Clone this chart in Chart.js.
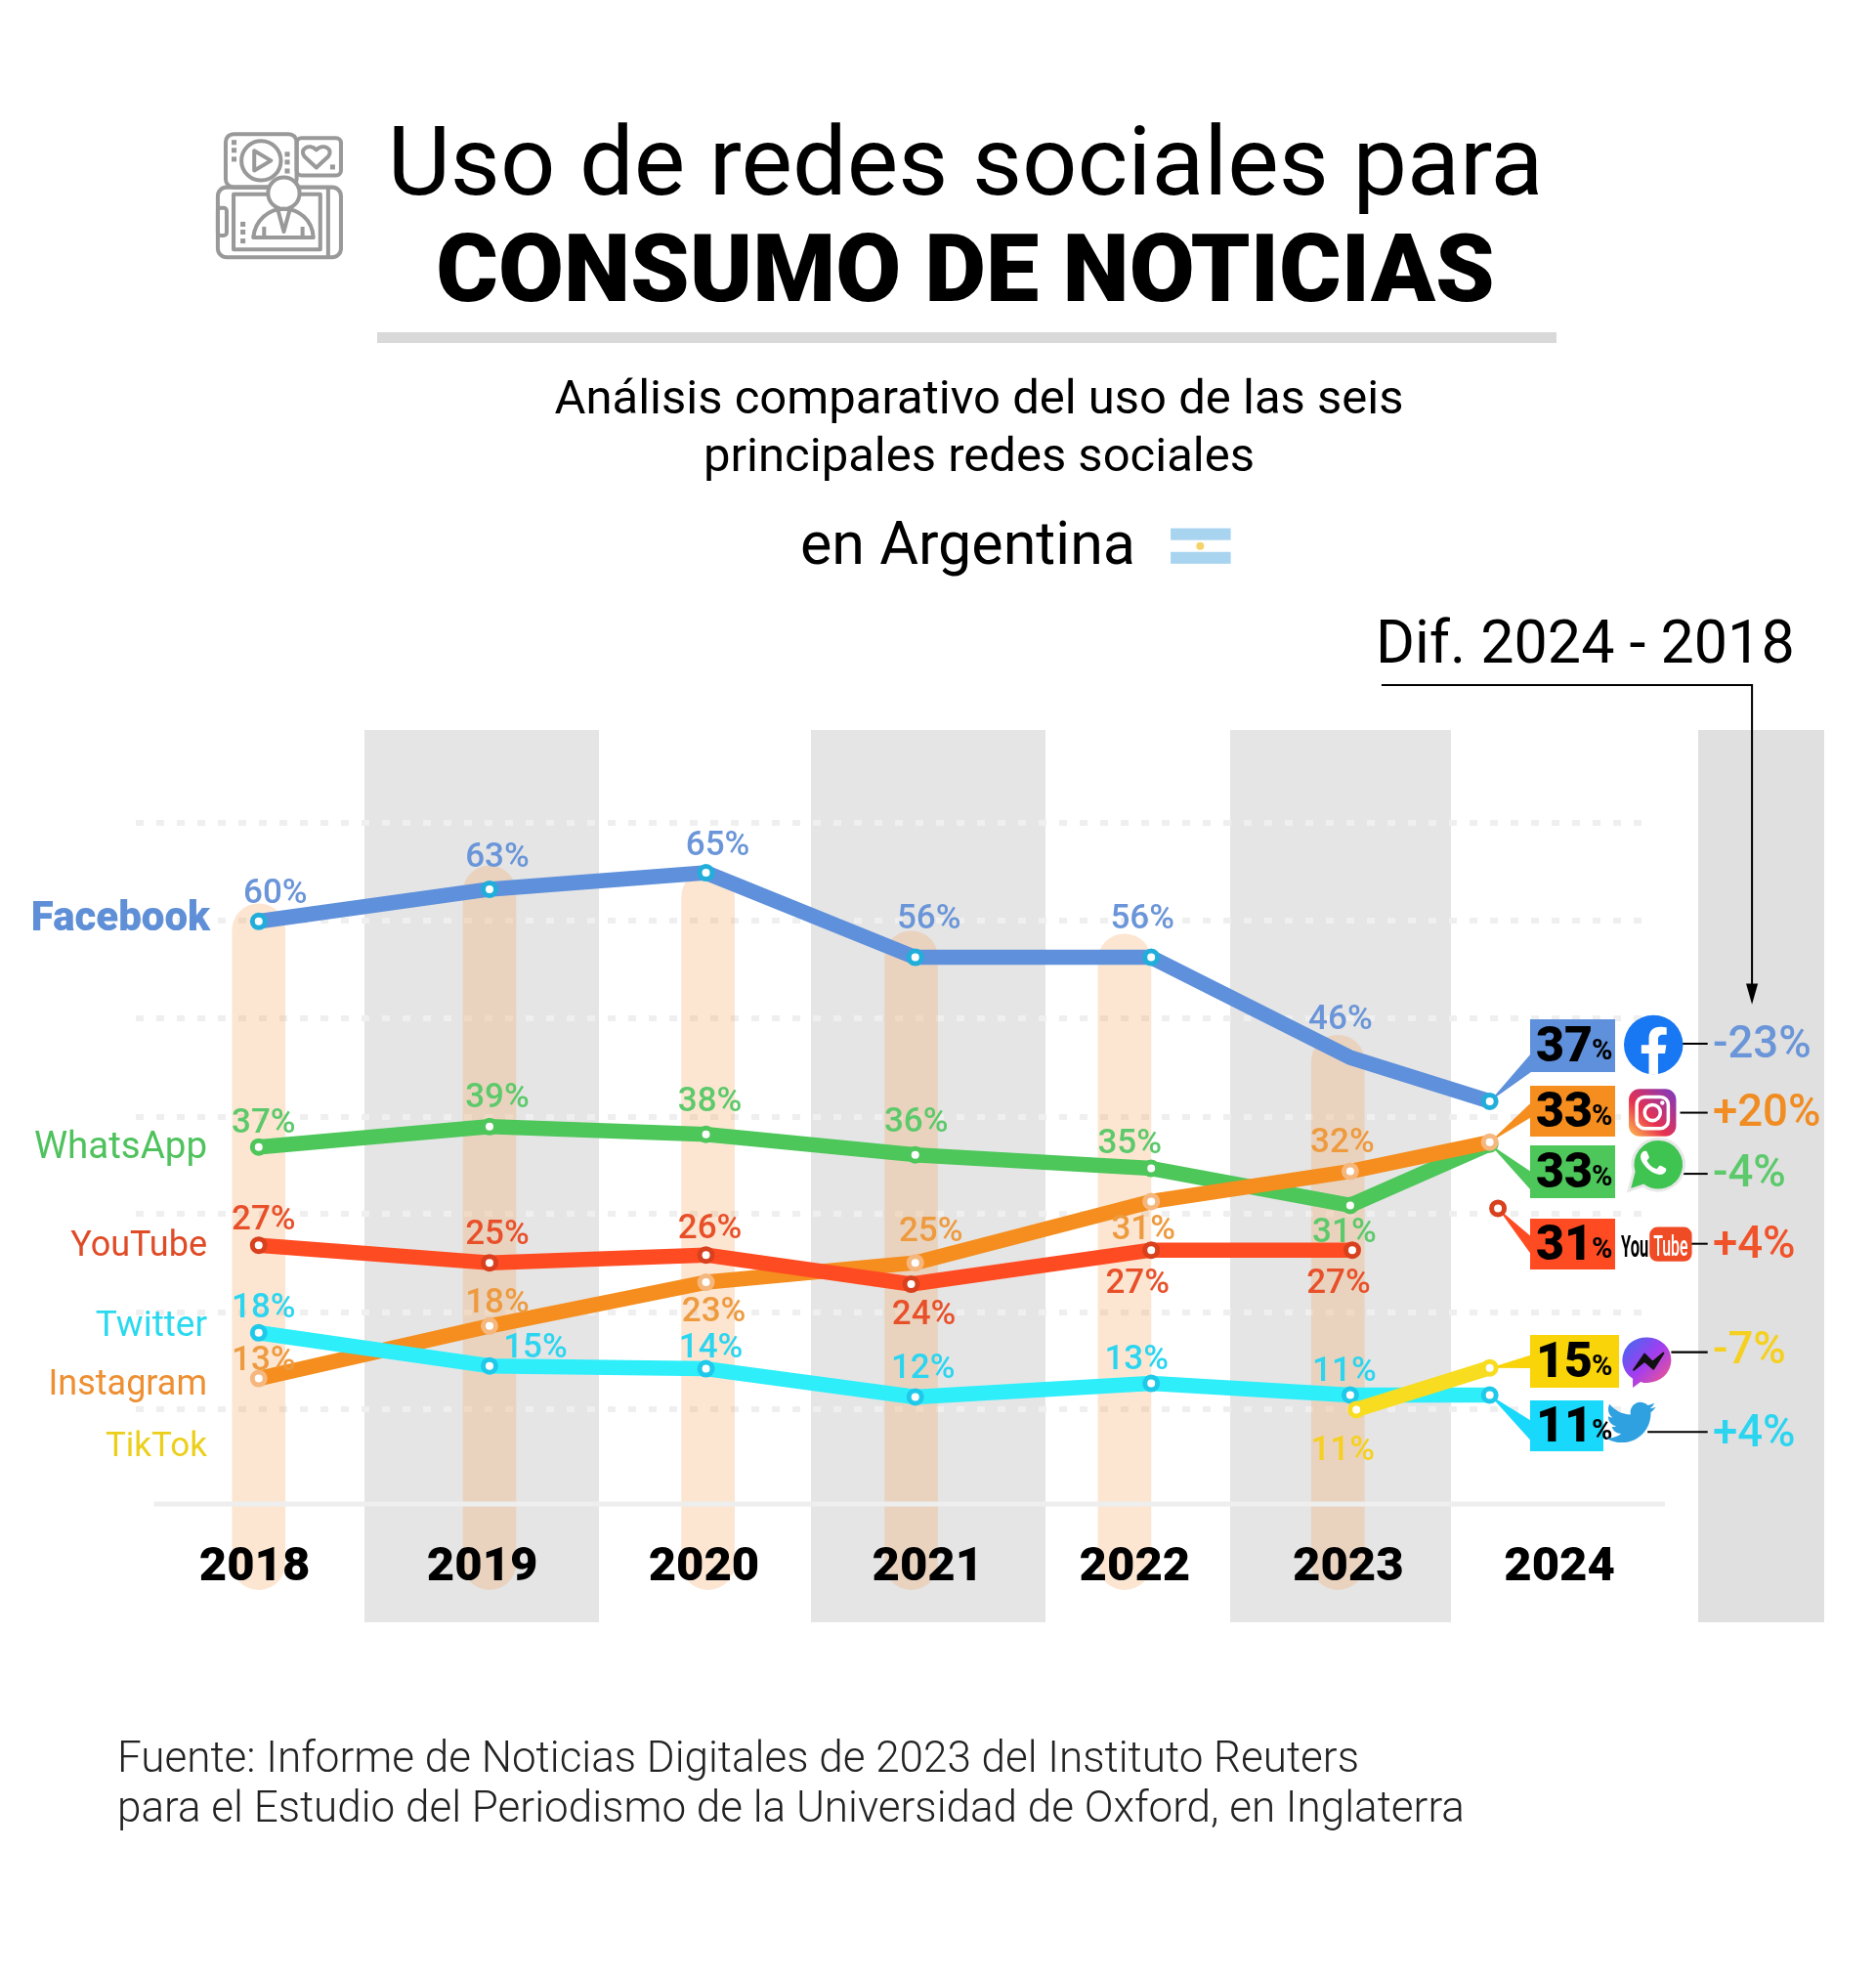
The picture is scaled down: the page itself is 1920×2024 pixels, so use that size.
<!DOCTYPE html>
<html lang="es">
<head>
<meta charset="utf-8">
<title>Uso de redes sociales para consumo de noticias</title>
<script src="https://cdn.jsdelivr.net/npm/chart.js@4"></script>
<style>
    html, body { margin: 0; padding: 0; background: #fff; }
    body { position: relative; width: 1920px; height: 2024px; overflow: hidden; font-family: Roboto, sans-serif; color: #000; }
    .banda { position: absolute; top: 747px; height: 913px; background: #e5e5e5; }
    canvas, svg { position: absolute; left: 0; top: 0; }
    .txt { position: absolute; white-space: nowrap; line-height: 1; transform: translateY(-50%); }
    .centro { transform: translate(-50%, -50%); }
    .nombre { right: 1708px; font-size: 36px; }
    .dif { left: 1753px; font-size: 45.5px; font-weight: 500; }
</style>
</head>
<body>

<div class="banda" style="left:373px;width:240px"></div>
<div class="banda" style="left:830px;width:240px"></div>
<div class="banda" style="left:1259px;width:226px"></div>
<div class="banda" style="left:1738px;width:129px;background:#e0e0e0"></div>

<canvas id="grafico" width="1920" height="2024"></canvas>

<div class="txt centro" style="left:988px;top:165px;font-size:99px">Uso de redes sociales para</div>
<div class="txt centro" style="left:988px;top:275px;font-size:97px;font-weight:900">CONSUMO DE NOTICIAS</div>
<div style="position:absolute;left:386px;top:340px;width:1207px;height:11px;background:#d9d9d9"></div>
<div class="txt centro" style="left:1002px;top:406px;font-size:49px">Análisis comparativo del uso de las seis</div>
<div class="txt centro" style="left:1002px;top:465px;font-size:49px">principales redes sociales</div>
<div class="txt" style="left:819px;top:556px;font-size:61px">en Argentina</div>
<div class="txt" style="left:1408px;top:657px;font-size:61px">Dif. 2024 - 2018</div>

<div class="txt nombre" style="top:938px;right:1705px;color:#5f8fd6;font-weight:900;font-size:42px">Facebook</div>
<div class="txt nombre" style="top:1172px;color:#4fc25d;font-size:38.5px">WhatsApp</div>
<div class="txt nombre" style="top:1273px;color:#df4b26">YouTube</div>
<div class="txt nombre" style="top:1354px;color:#2bd9ef;font-size:37px">Twitter</div>
<div class="txt nombre" style="top:1415px;color:#ee8f32">Instagram</div>
<div class="txt nombre" style="top:1478px;color:#eccf1a;font-size:35px">TikTok</div>

<div class="txt dif" style="top:1067px;color:#6a95d8">-23%</div>
<div class="txt dif" style="top:1137px;color:#f08c22">+20%</div>
<div class="txt dif" style="top:1199px;color:#5cc96b">-4%</div>
<div class="txt dif" style="top:1272px;color:#f0532a">+4%</div>
<div class="txt dif" style="top:1380px;color:#f5d020">-7%</div>
<div class="txt dif" style="top:1465px;color:#2bd5f0">+4%</div>

<div class="txt" style="left:120px;top:1798px;font-size:44px;font-weight:300;color:#222">Fuente: Informe de Noticias Digitales de 2023 del Instituto Reuters</div>
<div class="txt" style="left:120px;top:1849px;font-size:44px;font-weight:300;color:#222">para el Estudio del Periodismo de la Universidad de Oxford, en Inglaterra</div>

<svg width="1920" height="2024" viewBox="0 0 1903.8 2007" fill="none">
    <defs>
        <linearGradient id="gradIg" x1="0" y1="1" x2="1" y2="0">
            <stop offset="0" stop-color="#fdc04e"/><stop offset=".4" stop-color="#e8304f"/><stop offset="1" stop-color="#7a3bc4"/>
        </linearGradient>
        <linearGradient id="gradMs" x1="0" y1="0" x2="1" y2="1">
            <stop offset="0" stop-color="#3a6cf0"/><stop offset=".5" stop-color="#a33df0"/><stop offset="1" stop-color="#ff5a7a"/>
        </linearGradient>
    </defs>

    <!-- icono del encabezado -->
    <g stroke="#999" stroke-width="4" stroke-linejoin="round">
        <rect x="229" y="136" width="72" height="54" rx="8"/>
        <rect x="301" y="140" width="45" height="38" rx="5"/>
        <rect x="221" y="190" width="125" height="71" rx="9"/>
        <rect x="237" y="197" width="88" height="56"/>
        <rect x="221" y="211" width="9" height="28" rx="3"/>
        <path d="M333 190V261"/>
        <circle cx="265" cy="163" r="20"/>
        <path d="M258 153V173L275 163Z"/>
        <path d="M321 170L309 159C303 151 314 145 321 152C328 145 339 151 333 159Z"/>
        <circle cx="288" cy="196" r="16" fill="#fff"/>
        <path d="M257 241C259 223 273 212 288 212C303 212 317 223 318 241Z"/>
        <path d="M282 213L288 235L294 213M268 230V241M307 230V241"/>
    </g>
    <g fill="#999">
        <rect x="235" y="142" width="5" height="5"/><rect x="235" y="150" width="5" height="5"/><rect x="235" y="159" width="5" height="5"/>
        <rect x="289" y="154" width="5" height="5"/><rect x="289" y="162" width="5" height="5"/><rect x="289" y="171" width="5" height="5"/>
        <rect x="335" y="167" width="5" height="5"/>
        <rect x="244" y="225" width="5" height="5"/><rect x="244" y="233" width="5" height="5"/><rect x="244" y="242" width="5" height="5"/>
    </g>

    <!-- bandera -->
    <rect x="1188" y="536" width="61" height="36" fill="#fff"/>
    <rect x="1188" y="536" width="61" height="12" fill="#a8d4f0"/>
    <rect x="1188" y="560" width="61" height="12" fill="#a8d4f0"/>
    <circle cx="1218" cy="554" r="4" fill="#f6d36a"/>

    <!-- flecha de la diferencia -->
    <path d="M1402 695H1778V1000" stroke="#000" stroke-width="2"/>
    <path d="M1772 998H1784L1778 1019Z" fill="#000"/>

    <!-- lineas hacia las diferencias -->
    <g stroke="#000" stroke-width="2">
        <path d="M1706 1059H1733"/><path d="M1705 1129H1733"/><path d="M1705 1191H1733"/>
        <path d="M1716 1262H1733"/><path d="M1696 1372H1733"/><path d="M1672 1453H1733"/>
    </g>

    <!-- facebook -->
    <g transform="translate(-2 0)">
        <circle cx="1680" cy="1060" r="30" fill="#1877f2"/>
        <g transform="translate(1650 1030) scale(2.5)">
            <path fill="#fff" d="M16.671 15.543l.532-3.47h-3.328v-2.25c0-.949.465-1.874 1.956-1.874h1.513V4.996s-1.374-.235-2.686-.235c-2.741 0-4.533 1.662-4.533 4.669v2.643H7.078v3.47h3.047v8.385a12.09 12.09 0 003.75 0v-8.385z"/>
        </g>
    </g>
    <!-- instagram -->
    <rect x="1653" y="1105" width="48" height="48" rx="11" fill="url(#gradIg)"/>
    <rect x="1661" y="1113" width="32" height="32" rx="8" stroke="#fff" stroke-width="3.5"/>
    <circle cx="1677" cy="1129" r="8" stroke="#fff" stroke-width="3.5"/>
    <circle cx="1687" cy="1119" r="2.2" fill="#fff"/>
    <!-- whatsapp -->
    <g transform="translate(-4 -3)">
        <path d="M1657 1211L1662 1192A26 26 0 1 1 1672 1206Z" fill="#3fc351" stroke="#e8e8e8" stroke-width="3"/>
        <g transform="translate(1656 1157) scale(2.15)">
            <path fill="#fff" d="M17.472 14.382c-.297-.149-1.758-.867-2.03-.967-.273-.099-.471-.148-.67.15-.197.297-.767.966-.94 1.164-.173.199-.347.223-.644.075-.297-.15-1.255-.463-2.39-1.475-.883-.788-1.48-1.761-1.653-2.059-.173-.297-.018-.458.13-.606.134-.133.298-.347.446-.52.149-.174.198-.298.298-.497.099-.198.05-.371-.025-.52-.075-.149-.669-1.612-.916-2.207-.242-.579-.487-.5-.669-.51-.173-.008-.371-.01-.57-.01-.198 0-.52.074-.792.372-.272.297-1.04 1.016-1.04 2.479 0 1.462 1.065 2.875 1.213 3.074.149.198 2.096 3.2 5.077 4.487.709.306 1.262.489 1.694.625.712.227 1.36.195 1.871.118.571-.085 1.758-.719 2.006-1.413.248-.694.248-1.289.173-1.413-.074-.124-.272-.198-.57-.347z"/>
        </g>
    </g>
    <!-- youtube -->
    <text x="1645" y="1275" fill="#000" font-family="Roboto" font-weight="700" font-size="32" textLength="28" lengthAdjust="spacingAndGlyphs">You</text>
    <rect x="1674" y="1245" width="43" height="35" rx="8" fill="#ef4b25"/>
    <text x="1678" y="1274" fill="#fff" font-family="Roboto" font-weight="500" font-size="30" textLength="35" lengthAdjust="spacingAndGlyphs">Tube</text>
    <!-- messenger -->
    <path d="M1672 1357A24 23 0 0 1 1672 1403C1669 1403 1667 1403 1665 1402L1657 1408V1399A24 23 0 0 1 1672 1357Z" fill="url(#gradMs)"/>
    <path d="M1658 1390L1669 1374L1677 1382L1688 1373L1678 1389L1669 1381Z" fill="#111" stroke="#111" stroke-width="2" stroke-linejoin="round"/>
    <!-- twitter -->
    <g transform="translate(1630 1418) scale(2.1)">
        <path fill="#2fa0e0" d="M23.953 4.57a10 10 0 01-2.825.775 4.958 4.958 0 002.163-2.723c-.951.555-2.005.959-3.127 1.184a4.92 4.92 0 00-8.384 4.482C7.69 8.095 4.067 6.13 1.64 3.162a4.822 4.822 0 00-.666 2.475c0 1.71.87 3.213 2.188 4.096a4.904 4.904 0 01-2.228-.616v.06a4.923 4.923 0 003.946 4.827 4.996 4.996 0 01-2.212.085 4.936 4.936 0 004.604 3.417 9.867 9.867 0 01-6.102 2.105c-.39 0-.779-.023-1.17-.067a13.995 13.995 0 007.557 2.209c9.053 0 13.998-7.496 13.998-13.985 0-.21 0-.42-.015-.63A9.935 9.935 0 0024 4.59z"/>
    </g>
</svg>

<script>
// ==============================
// DATOS
// ==============================

const anios = ["2018", "2019", "2020", "2021", "2022", "2023", "2024"];

// Porcentajes impresos en la imagen
const facebook = [60, 63, 65, 56, 56, 46, 37];
const whatsapp = [37, 39, 38, 36, 35, 31, 33];
const youtube = [27, 25, 26, 24, 27, 27, 31];
const instagram = [13, 18, 23, 25, 31, 32, 33];
const twitter = [18, 15, 14, 12, 13, 11, 11];
const tiktok = [11, 15];

// El original no dibuja a escala: altura real de cada punto leida contra las lineas de puntos
const nivelFacebook = [59.9, 63.2, 64.9, 56.2, 56.2, 45.9, 41.4];
const nivelWhatsapp = [36.7, 38.8, 38.0, 35.9, 34.5, 30.7, 37.0];
const nivelYoutube = [26.6, 24.8, 25.6, 22.6, 26.1, 26.1];
const nivelYoutube2024 = [30.4];
const nivelInstagram = [12.9, 18.3, 22.8, 24.8, 31.1, 34.2, 37.2];
const nivelTwitter = [17.6, 14.2, 13.9, 11.0, 12.4, 11.2, 11.2];
const nivelTiktok = [9.7, 14.0];

// Tampoco los anios estan parejos en x
const xPuntos = [2018, 2019.125, 2020.18, 2021.2, 2022.35, 2023.32, 2024];
const xYoutube = [2018, 2019.125, 2020.18, 2021.18, 2022.35, 2023.33];
const xYoutube2024 = [2024.04];
const xTiktok = [2023.35, 2024];
const xEtiquetas = [2017.98, 2019.09, 2020.17, 2021.26, 2022.27, 2023.31, 2024.34];

// Lineas de puntos del fondo
const nivelesGrilla = [9.7, 19.7, 29.8, 39.8, 49.9, 60, 70];

// Columnas claras de fondo
const xColumnas = [2018, 2019.125, 2020.19, 2021.18, 2022.22, 2023.26];
const topeColumnas = [61.7, 65.6, 65.1, 58.9, 58.6, 48.2];

const xMin = 2017.403;
const xMax = 2024.792;
const xEjeIni = 2017.49;
const xEjeFin = 2024.854;

// Desplazamiento de cada etiqueta respecto de su punto
const despFacebook = [[17, -28], [8, -32], [12, -27], [14, -38], [-9, -38], [-10, -38]];
const despWhatsapp = [[5, -23], [8, -29], [4, -33], [1, -32], [-22, -24], [-6, 29]];
const despYoutube = [[5, -25], [8, -28], [4, -26], [13, 32], [-14, 35], [-14, 35]];
const despInstagram = [[5, -17], [8, -23], [8, 31], [16, -31], [-8, 30], [-8, -28]];
const despTwitter = [[5, -25], [47, -17], [5, -20], [8, -28], [-15, -23], [-6, -23]];
const despTiktok = [[-14, 43]];

function puntos(xs, niveles) {
    return niveles.map((y, i) => ({ x: xs[i], y: y }));
}

function serie(xs, niveles, color, anillo, orden, radios) {
    return {
        type: "line",
        data: puntos(xs, niveles),
        borderColor: color,
        borderWidth: 15.5,
        borderJoinStyle: "round",
        borderCapStyle: "round",
        tension: 0,
        fill: false,
        pointRadius: radios || 6.5,
        pointHoverRadius: radios || 6.5,
        pointBorderWidth: 5,
        pointBorderColor: anillo,
        pointBackgroundColor: "#fff",
        order: orden
    };
}

const dsFacebook = serie(xPuntos, nivelFacebook, "#5f90db", "#22aedb", 1, [6.5, 6.5, 6.5, 6.5, 6.5, 0, 6.5]);
const dsTiktok = serie(xTiktok, nivelTiktok, "#f8dc20", "#f8dc20", 2);
const dsTwitter = serie(xPuntos, nivelTwitter, "#2eeefa", "#1fc9ea", 3);
const dsYoutube = serie(xYoutube, nivelYoutube, "#ff4b22", "#d8401e", 4);
const dsYoutube2024 = serie(xYoutube2024, nivelYoutube2024, "#ff4b22", "#d8401e", 4);
const dsInstagram = serie(xPuntos, nivelInstagram, "#f58e1e", "#f5b77d", 5);
const dsWhatsapp = serie(xPuntos, nivelWhatsapp, "#4dc65a", "#4dc65a", 6);

const dsEje = {
    type: "line",
    data: [{ x: xEjeIni, y: 0 }, { x: xEjeFin, y: 0 }],
    borderColor: "#eeeeee",
    borderWidth: 5,
    pointRadius: 0,
    clip: false,
    order: 9
};

const dsColumnas = {
    type: "bar",
    data: xColumnas.map((x, i) => ({ x: x, y: [-8.8, topeColumnas[i]] })),
    backgroundColor: "rgba(245,165,95,0.28)",
    barThickness: 54,
    borderRadius: 27,
    borderSkipped: false,
    order: 10
};

// ==============================
// ETIQUETAS Y CAJAS
// ==============================

// Etiquetas de valor junto a cada punto
const etiquetas = [
    { ds: dsFacebook, valores: facebook, desp: despFacebook, color: "#6a95d8" },
    { ds: dsWhatsapp, valores: whatsapp, desp: despWhatsapp, color: "#5cc96b" },
    { ds: dsYoutube, valores: youtube, desp: despYoutube, color: "#e8502a" },
    { ds: dsInstagram, valores: instagram, desp: despInstagram, color: "#ee9a3f" },
    { ds: dsTwitter, valores: twitter, desp: despTwitter, color: "#2bd5f0" },
    { ds: dsTiktok, valores: tiktok, desp: despTiktok, color: "#f5d020" }
];

// Cajas de 2024: x, y, ancho, alto en pagina y tramo de la base de la cuna
const cajas = [
    { ds: dsFacebook, valor: facebook[6], color: "#5f90db", r: [1566, 1043, 87, 54], base: [0.65, 1] },
    { ds: dsInstagram, valor: instagram[6], color: "#f58e1e", r: [1566, 1111, 87, 52], base: [0.33, 0.62] },
    { ds: dsWhatsapp, valor: whatsapp[6], color: "#4dc65a", r: [1566, 1172, 87, 54], base: [0.5, 0.85] },
    { ds: dsYoutube2024, valor: youtube[6], color: "#ff4b22", r: [1566, 1247, 87, 52], base: [0.35, 0.7] },
    { ds: dsTiktok, valor: tiktok[1], color: "#f8d408", r: [1566, 1366, 91, 54], base: [0.38, 0.63] },
    { ds: dsTwitter, valor: twitter[6], color: "#18d8fb", r: [1566, 1433, 75, 52], base: [0.4, 0.8] }
];

const pluginCajas = {
    id: "cajas",
    beforeDatasetsDraw(chart) {
        const ctx = chart.ctx;
        const lista = chart.data.datasets;
        ctx.save();
        cajas.forEach(c => {
            const meta = chart.getDatasetMeta(lista.indexOf(c.ds));
            const punto = meta.data[meta.data.length - 1];
            const [x, y, w, h] = c.r;
            ctx.fillStyle = c.color;
            ctx.beginPath();
            ctx.moveTo(punto.x, punto.y);
            ctx.lineTo(x + 1, y + h * c.base[0]);
            ctx.lineTo(x + 1, y + h * c.base[1]);
            ctx.closePath();
            ctx.fill();
            ctx.fillRect(x, y, w, h);
        });
        ctx.restore();
    },
    afterDatasetsDraw(chart) {
        const ctx = chart.ctx;
        const lista = chart.data.datasets;
        ctx.save();
        ctx.textBaseline = "middle";
        ctx.textAlign = "center";

        etiquetas.forEach(e => {
            const meta = chart.getDatasetMeta(lista.indexOf(e.ds));
            ctx.fillStyle = e.color;
            ctx.font = "500 35px Roboto";
            e.desp.forEach((d, i) => {
                const p = meta.data[i];
                ctx.fillText(e.valores[i] + "%", p.x + d[0], p.y + d[1]);
            });
        });

        ctx.textAlign = "left";
        ctx.fillStyle = "#000";
        cajas.forEach(c => {
            const [x, y, w, h] = c.r;
            ctx.font = "900 50px Roboto";
            const texto = String(c.valor);
            ctx.fillText(texto, x + 6, y + h / 2 + 3);
            const ancho = ctx.measureText(texto).width;
            ctx.font = "700 29px Roboto";
            ctx.fillText("%", x + 6 + ancho - 1, y + h / 2 + 7);
        });
        ctx.restore();
    }
};

// ==============================
// GRAFICO
// ==============================

const grafico = new Chart(document.getElementById("grafico"), {
    data: {
        datasets: [dsFacebook, dsTiktok, dsTwitter, dsYoutube, dsYoutube2024, dsInstagram, dsWhatsapp, dsEje, dsColumnas]
    },
    options: {
        responsive: false,
        animation: false,
        devicePixelRatio: 1,
        layout: { padding: { left: 139.4, right: 229, top: 792.5, bottom: 345.6 } },
        plugins: { legend: { display: false }, tooltip: { enabled: false } },
        scales: {
            x: {
                type: "linear",
                min: xMin,
                max: xMax,
                offset: false,
                border: { display: false },
                grid: { display: false, drawTicks: false },
                afterBuildTicks: s => { s.ticks = xEtiquetas.map(v => ({ value: v })); },
                afterFit: s => { s.height = 20; },
                ticks: {
                    z: 1,
                    autoSkip: false,
                    maxRotation: 0,
                    minRotation: 0,
                    // mirror evita que el eje recorte las etiquetas, que van dentro del area
                    mirror: true,
                    padding: 24,
                    color: "#000",
                    font: { family: "Roboto", size: 49, weight: "900" },
                    callback: (v, i) => anios[i]
                }
            },
            y: {
                min: -12,
                max: 75,
                border: { display: false, dash: [8, 13] },
                grid: {
                    color: "#efefef",
                    lineWidth: 6,
                    drawTicks: false
                },
                afterBuildTicks: s => { s.ticks = nivelesGrilla.map(v => ({ value: v })); },
                afterFit: s => { s.width = 0; },
                ticks: { display: false }
            }
        }
    },
    plugins: [pluginCajas]
});
</script>
</body>
</html>
